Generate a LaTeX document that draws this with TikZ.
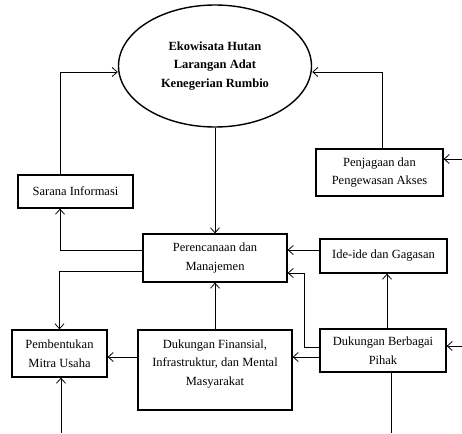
\documentclass[tikz,border=0pt]{standalone}
\usepackage{fontspec}
\setmainfont{Liberation Serif}
\usetikzlibrary{arrows.meta,positioning,shapes.geometric}

\begin{document}
\begin{tikzpicture}[
  x=1pt, y=-1pt,
  font=\fontsize{12.5}{18.5}\selectfont,
  box/.style={draw,line width=1.3pt,inner sep=2pt,align=center},
  arrow/.style={-{Straight Barb[length=5pt,width=9pt]},line width=0.8pt},
  plain/.style={line width=0.8pt}
]
  \useasboundingbox (0,0) rectangle (462,433);

  \node[ellipse,draw,line width=1.4pt,minimum width=193pt,minimum height=122pt,
        align=center,font=\fontsize{12.5}{18.5}\selectfont\bfseries] (eko) at (215,66)
        {Ekowisata Hutan\\Larangan Adat\\Kenegerian Rumbio};
  \node[box,minimum width=115pt,minimum height=33pt] (sarana) at (75.5,191.5) {Sarana Informasi};
  \node[box,minimum width=127pt,minimum height=47pt] (jaga) at (379.5,172.5) {Penjagaan dan\\Pengewasan Akses};
  \node[box,minimum width=144pt,minimum height=48pt] (rencana) at (215,258) {Perencanaan dan\\Manajemen};
  \node[box,minimum width=127pt,minimum height=34pt] (ide) at (383.5,256) {Ide-ide dan Gagasan};
  \node[box,minimum width=95pt,minimum height=47pt] (mitra) at (59.5,353.5) {Pembentukan\\Mitra Usaha};
  \node[box,minimum width=154pt,minimum height=80pt,text depth=15pt] (dana) at (215,370)
        {Dukungan Finansial,\\Infrastruktur, dan Mental\\Masyarakat};
  \node[box,minimum width=126pt,minimum height=43pt] (pihak) at (383,350.5) {Dukungan Berbagai\\Pihak};

  % bend points and free ends
  \coordinate (kiri) at (60,72);
  \coordinate (kanan) at (382,72);
  \coordinate (masuk1) at (462,159);
  \coordinate (masuk2) at (462,346);
  \coordinate (bawah1) at (61,433);
  \coordinate (bawah2) at (391,433);
  \coordinate (belok) at (304,347);

  \draw[arrow] (sarana.north -| kiri) |- (eko.west |- kiri);
  \draw[arrow] (jaga.north -| kanan) |- (eko.east |- kanan);
  \draw[arrow] (masuk1) -- (masuk1 -| jaga.east);
  \draw[arrow] (eko.south) -- (rencana.north);
  \draw[arrow] ([yshift=8pt]rencana.west) -| (sarana.south -| kiri);
  \draw[arrow] ([yshift=6pt]ide.west) -- ([yshift=6pt]ide.west -| rencana.east);
  \draw[arrow] ([yshift=-13pt]rencana.west) -| (mitra.north);
  \draw[arrow] (bawah1) -- (bawah1 |- mitra.south);
  \draw[arrow] (dana.north) -- (rencana.south);
  \draw[arrow] ([yshift=-6.5pt]pihak.west) -- ([yshift=-6.5pt]pihak.west -| dana.east);
  \draw[arrow] ([yshift=-3.5pt]mitra.east -| dana.west) -- ([yshift=-3.5pt]mitra.east);
  \draw[arrow] (pihak.west |- belok) -- (belok) |- ([yshift=-15pt]rencana.east);
  \draw[arrow] ([xshift=4pt]pihak.north) -- ([xshift=4pt]pihak.north |- ide.south);
  \draw[arrow] (masuk2) -- (masuk2 -| pihak.east);
  \draw[plain] (bawah2 |- pihak.south) -- (bawah2);
\end{tikzpicture}
\end{document}
